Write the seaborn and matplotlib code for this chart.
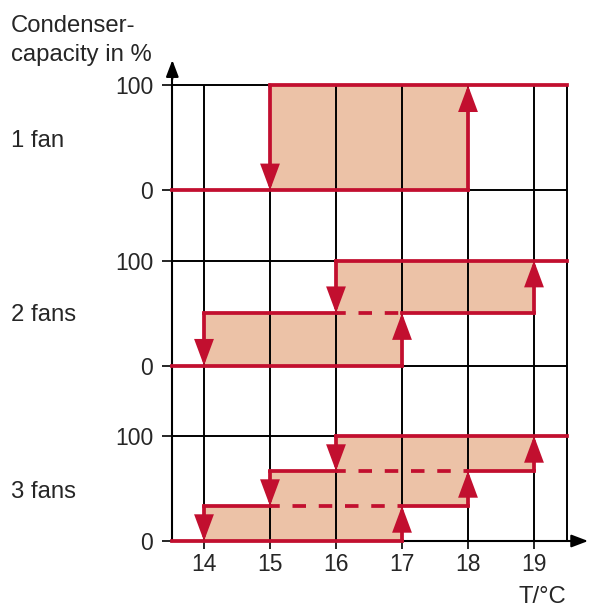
import pandas as pd
import seaborn as sns
import matplotlib.pyplot as plt

# fan staging hysteresis: capacity steps switch on/off at these temperatures
temps = [14, 15, 16, 17, 18, 19]
panel_names = ['1 fan', '2 fans', '3 fans']
switch_on = [[18], [17, 19], [17, 18, 19]]
switch_off = [[15], [14, 16], [14, 15, 16]]
ytick_values = [0, 100]

red = '#c20f2f'
peach = '#ecc2a7'
bases = [334, 167, 0]          # vertical offset of each panel
x_left, x_right = 13.52, 19.5

sns.set_style('white')
plt.rcParams['font.family'] = ['Liberation Sans', 'DejaVu Sans']
fs_tick = 16.5
fs_text = 17.2

fig = plt.figure(figsize=(5.89, 6.08), dpi=100)
ax = fig.add_axes([0, 0, 1, 1])
ax.set_xlim(14 - 204 / 66, 14 + (589 - 204) / 66)
ax.set_ylim(-(608 - 541) / 1.05, 541 / 1.05)
ax.patch.set_alpha(0)

solid, dashed, arrows = [], [], []
seg = 0


def add(rows, x0, x1, y0, y1):
    global seg
    rows.append({'seg': seg, 'x': x0, 'y': y0})
    rows.append({'seg': seg, 'x': x1, 'y': y1})
    seg += 1


for base, on, off in zip(bases, switch_on, switch_off):
    n = len(on)
    lv = [base + 100 * k / n for k in range(n + 1)]
    add(solid, x_left, on[0], lv[0], lv[0])
    add(solid, off[-1], x_right, lv[n], lv[n])
    for k in range(n):
        ax.fill_between([off[k], on[k]], lv[k], lv[k + 1], color=peach, lw=0, zorder=1)
        arrows.append((on[k], lv[k], lv[k + 1]))
        arrows.append((off[k], lv[k + 1], lv[k]))
    for k in range(1, n):
        add(solid, off[k - 1], off[k], lv[k], lv[k])
        add(dashed, off[k], on[k - 1], lv[k], lv[k])
        add(solid, on[k - 1], on[k], lv[k], lv[k])

# black grid
grid_y = [b + v for b in bases for v in ytick_values]
ax.hlines([y for y in grid_y if y != 0], x_left, x_right, color='black', lw=1.4, zorder=2)
ax.vlines(temps + [x_right], 0, bases[0] + 100, color='black', lw=1.4, zorder=2)

# red hysteresis lines
sns.lineplot(data=pd.DataFrame(solid), x='x', y='y', units='seg', estimator=None,
             sort=False, color=red, lw=2.7, solid_capstyle='projecting',
             legend=False, ax=ax, zorder=4)
sns.lineplot(data=pd.DataFrame(dashed), x='x', y='y', units='seg', estimator=None,
             sort=False, color=red, lw=2.7, linestyle=(1.0, (3.6, 3.4)),
             legend=False, ax=ax, zorder=4)
for x, y0, y1 in arrows:
    ax.annotate('', xy=(x, y1), xytext=(x, y0), zorder=5,
                arrowprops=dict(arrowstyle='-|>,head_length=1.4,head_width=0.52',
                                mutation_scale=10, color=red, lw=2.7,
                                shrinkA=0, shrinkB=0, joinstyle='miter'))

# axes with arrows
for s in ['top', 'right']:
    ax.spines[s].set_visible(False)
ax.spines['left'].set_position(('data', x_left))
ax.spines['left'].set_bounds(0, 448)
ax.spines['bottom'].set_position(('data', 0))
ax.spines['bottom'].set_bounds(x_left, 19.7)
for s in ['left', 'bottom']:
    ax.spines[s].set_linewidth(1.5)
    ax.spines[s].set_color('black')
    ax.spines[s].set_zorder(3)
ax.annotate('', xy=(x_left, 458), xytext=(x_left, 440),
            arrowprops=dict(arrowstyle='-|>,head_length=1.0,head_width=0.38',
                            mutation_scale=10, color='black', lw=1.5, shrinkA=0, shrinkB=0))
ax.annotate('', xy=(19.82, 0), xytext=(19.6, 0), annotation_clip=False,
            arrowprops=dict(arrowstyle='-|>,head_length=1.0,head_width=0.38',
                            mutation_scale=10, color='black', lw=1.5, shrinkA=0, shrinkB=0))

ax.set_xticks(temps)
ax.set_xticklabels([str(t) for t in temps])
ax.set_yticks(grid_y)
ax.set_yticklabels([str(v) for b in bases for v in ytick_values])
ax.tick_params(axis='x', direction='out', length=5.8, width=1.4, pad=3.0,
               labelsize=fs_tick, bottom=True)
ax.tick_params(axis='y', direction='out', length=7.2, width=1.4, pad=6.5,
               labelsize=fs_tick, left=True)
ax.set_xlabel('')
ax.set_ylabel('')

W, H = 589, 608
fig.text(11 / W, 1 - 32 / H, 'Condenser-', fontsize=fs_text, va='baseline')
fig.text(11 / W, 1 - 61 / H, 'capacity in %', fontsize=fs_text, va='baseline')
for name, py in zip(panel_names, [147, 321, 498]):
    fig.text(11 / W, 1 - py / H, name, fontsize=fs_text, va='baseline')
fig.text(566 / W, 1 - 603 / H, 'T/°C', fontsize=fs_text, va='baseline', ha='right')

fig.savefig('out.png', dpi=100)
